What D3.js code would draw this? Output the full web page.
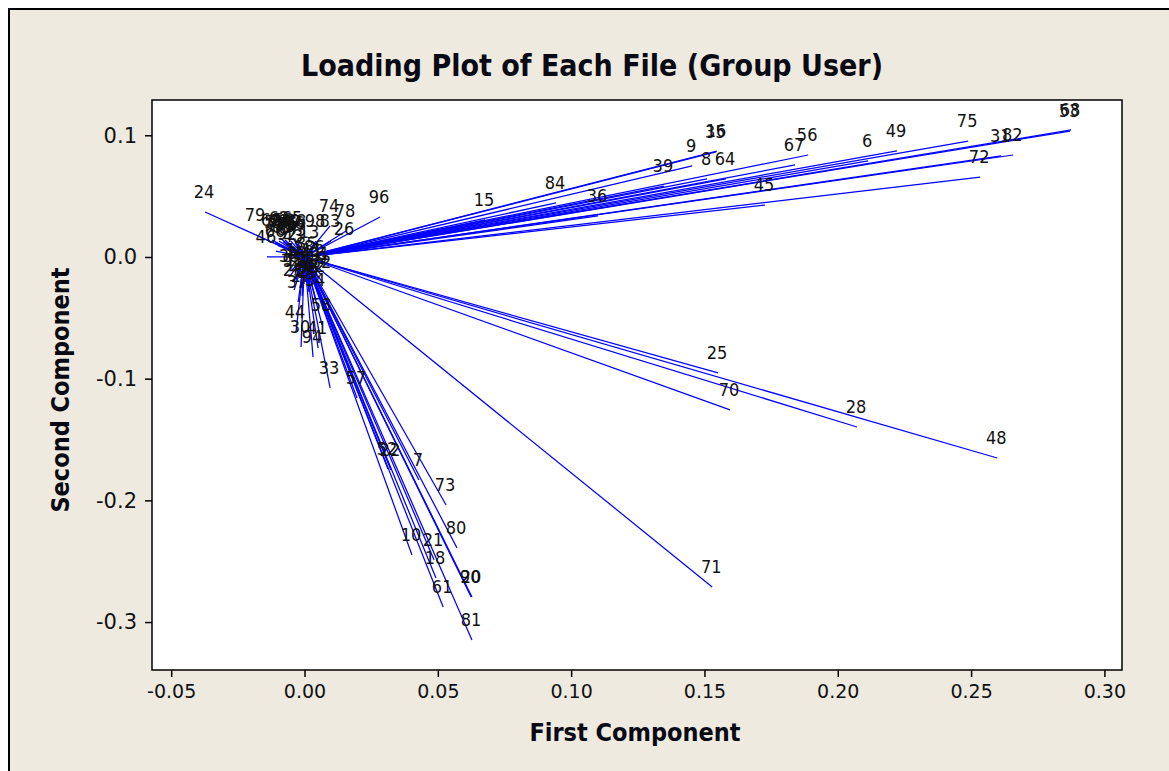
<!DOCTYPE html>
<html>
<head>
<meta charset="utf-8">
<script src="https://cdn.jsdelivr.net/npm/d3@7"></script>
<style>
  html, body { margin: 0; padding: 0; background: #ffffff; }
  svg text { font-family: "DejaVu Sans Condensed", "DejaVu Sans", sans-serif; font-stretch: condensed; }
</style>
</head>
<body>
<svg id="chart" width="1169" height="771"></svg>
<script>
// Loadings of each file on the first two principal components
const fileLabels = [
  "53","68","82","31","75","72","49","6","56","67","35","16","9","8","64","39","84","15","36","45",
  "96","74","78","83","26","24","79","46",
  "69","60","50","40","88","98","63","87","97","13","3","66","92","43","59","62","65","51","54","55","76","77",
  "1","2","4","11","12","14","17","19","23","27","29","32","34","37","5","38","42","47","85","86","89","91","93","95",
  "58","30","94","33","41","44",
  "57","22","52","7","73","80","10","21","18","20","90","61","81",
  "25","70","28","48","71"
];
const firstComponent = [
  0.2871,0.2875,0.2658,0.2613,0.2489,0.2534,0.2222,0.2114,0.1889,0.1840,0.1544,0.1547,0.1454,0.1510,0.1581,0.1348,0.0943,0.0677,0.1101,0.1727,
  0.0283,0.0096,0.0156,0.0099,0.0152,-0.0373,-0.0182,-0.0141,
  -0.0122,-0.0096,-0.0073,-0.0051,-0.0028,0.0043,-0.0081,-0.0054,-0.0028,0.0021,-0.0009,-0.0107,-0.0062,-0.0039,-0.0069,-0.0092,-0.0043,-0.0110,-0.0080,-0.0060,-0.0035,-0.0100,
  -0.0047,-0.0017,0.0009,0.0032,-0.0032,-0.0002,0.0024,0.0051,-0.0039,-0.0009,0.0017,0.0066,0.0043,-0.0024,0.0006,-0.0054,0.0043,-0.0017,0.0010,0.0040,-0.0025,0.0060,0.0020,-0.0040,
  0.0066,-0.0013,0.0032,0.0096,0.0051,-0.0032,
  0.0197,0.0324,0.0313,0.0429,0.0531,0.0572,0.0403,0.0486,0.0493,0.0628,0.0625,0.0520,0.0628,
  0.1551,0.1596,0.2072,0.2598,0.1529
];
const secondComponent = [
  0.1035,0.1044,0.0838,0.0830,0.0953,0.0657,0.0871,0.0789,0.0838,0.0756,0.0863,0.0871,0.0748,0.0641,0.0641,0.0583,0.0444,0.0304,0.0337,0.0427,
  0.0329,0.0255,0.0214,0.0131,0.0066,0.0370,0.0181,0.0000,
  0.0140,0.0131,0.0140,0.0131,0.0131,0.0131,0.0082,0.0074,0.0090,0.0041,0.0058,0.0049,0.0025,0.0008,0.0107,0.0156,0.0156,0.0120,0.0125,0.0110,0.0115,0.0095,
  -0.0107,-0.0090,-0.0123,-0.0107,-0.0189,-0.0222,-0.0205,-0.0173,-0.0271,-0.0320,-0.0288,-0.0205,-0.0353,-0.0370,-0.0173,-0.0156,-0.0238,-0.0255,-0.0060,-0.0080,-0.0130,-0.0140,-0.0250,-0.0200,
  -0.0559,-0.0740,-0.0822,-0.1076,-0.0748,-0.0616,
  -0.1159,-0.1750,-0.1742,-0.1832,-0.2038,-0.2391,-0.2449,-0.2490,-0.2638,-0.2794,-0.2794,-0.2876,-0.3147,
  -0.0953,-0.1257,-0.1397,-0.1652,-0.2712
];

const xTickValues = [-0.05, 0.00, 0.05, 0.10, 0.15, 0.20, 0.25, 0.30];
const xTickLabels = ["-0.05","0.00","0.05","0.10","0.15","0.20","0.25","0.30"];
const yTickValues = [0.1, 0.0, -0.1, -0.2, -0.3];
const yTickLabels = ["0.1","0.0","-0.1","-0.2","-0.3"];

const chartTitle = "Loading Plot of Each File (Group User)";
const xTitle = "First Component";
const yTitle = "Second Component";

const loadings = fileLabels.map((f, i) => ({ file: f, pc1: firstComponent[i], pc2: secondComponent[i] }));

const svg = d3.select("#chart");
const plot = { left: 152, top: 100, right: 1122, bottom: 670 };

const x = d3.scaleLinear().domain([-0.0572, 0.3066]).range([plot.left, plot.right]);
const y = d3.scaleLinear().domain([0.129, -0.3394]).range([plot.top, plot.bottom]);

// outer panel
svg.append("rect").attr("x", 0).attr("y", 0).attr("width", 1169).attr("height", 771).attr("fill", "#ffffff");
svg.append("rect").attr("x", 9).attr("y", 9).attr("width", 1175).attr("height", 780)
  .attr("fill", "#eeeae0").attr("stroke", "#000").attr("stroke-width", 2);

// data region
svg.append("rect")
  .attr("x", plot.left).attr("y", plot.top)
  .attr("width", plot.right - plot.left).attr("height", plot.bottom - plot.top)
  .attr("fill", "#ffffff");

// loading vectors from the origin
const g = svg.append("g");
g.selectAll("line.vec").data(loadings).join("line")
  .attr("class", "vec")
  .attr("x1", x(0)).attr("y1", y(0))
  .attr("x2", d => x(d.pc1)).attr("y2", d => y(d.pc2))
  .attr("stroke", "#0000ff").attr("stroke-width", 1.25);

g.selectAll("text.lab").data(loadings).join("text")
  .attr("class", "lab")
  .attr("x", d => x(d.pc1) - 1).attr("y", d => y(d.pc2) - 14)
  .attr("text-anchor", "middle")
  .attr("font-size", 18)
  .attr("fill", "#111")
  .text(d => d.file);

// frame
svg.append("rect")
  .attr("x", plot.left).attr("y", plot.top)
  .attr("width", plot.right - plot.left).attr("height", plot.bottom - plot.top)
  .attr("fill", "none").attr("stroke", "#000").attr("stroke-width", 1.5);

// axes
const xAxis = svg.append("g").attr("transform", `translate(0,${plot.bottom})`)
  .call(d3.axisBottom(x).tickValues(xTickValues).tickFormat((d, i) => xTickLabels[i])
    .tickSize(7).tickSizeOuter(0).tickPadding(8));
const yAxis = svg.append("g").attr("transform", `translate(${plot.left},0)`)
  .call(d3.axisLeft(y).tickValues(yTickValues).tickFormat((d, i) => yTickLabels[i])
    .tickSize(7).tickSizeOuter(0).tickPadding(8));
[xAxis, yAxis].forEach(a => {
  a.select(".domain").remove();
  a.selectAll(".tick line").attr("stroke", "#000").attr("stroke-width", 1.5);
  a.selectAll(".tick text").attr("fill", "#111")
    .style("font-family", '"DejaVu Sans", sans-serif').style("font-stretch", "normal");
});
xAxis.selectAll(".tick text").attr("font-size", 19);
yAxis.selectAll(".tick text").attr("font-size", 21);

// titles
svg.append("text").attr("x", 592).attr("y", 76).attr("text-anchor", "middle")
  .attr("font-size", 30).attr("font-weight", "bold").attr("fill", "#0a0a14").text(chartTitle);
svg.append("text").attr("x", 635).attr("y", 741).attr("text-anchor", "middle")
  .attr("font-size", 25).attr("font-weight", "bold").attr("fill", "#0a0a14").text(xTitle);
svg.append("text").attr("transform", "translate(69,390) rotate(-90)").attr("text-anchor", "middle")
  .attr("font-size", 25).attr("font-weight", "bold").attr("fill", "#0a0a14").text(yTitle);
</script>
</body>
</html>
